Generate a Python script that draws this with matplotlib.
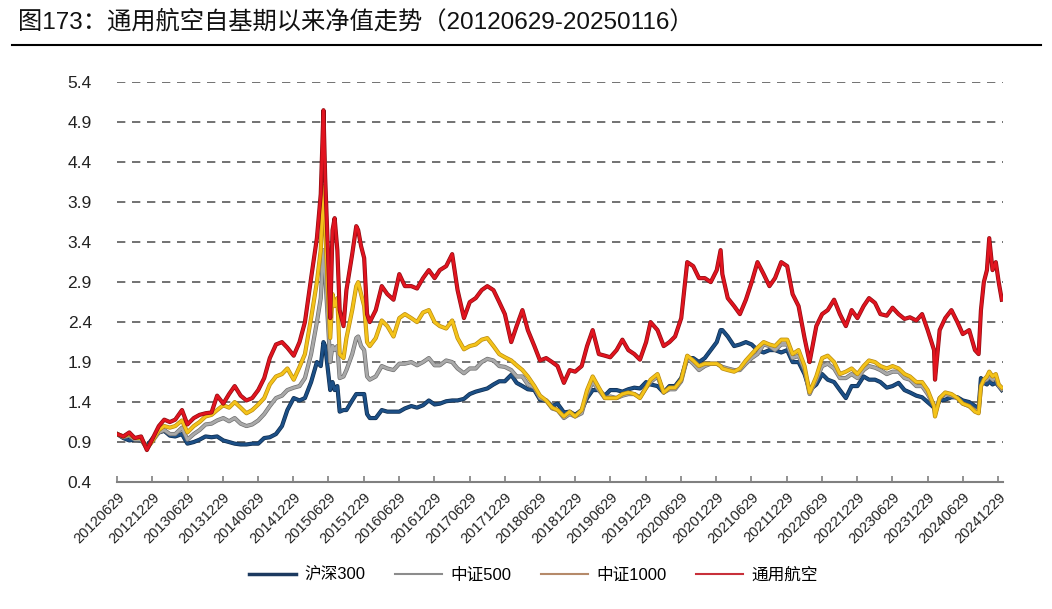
import pandas as pd
import matplotlib.pyplot as plt
import matplotlib.patheffects as pe
from matplotlib.lines import Line2D

plt.rcParams['font.family'] = ['Liberation Sans', 'Noto Sans CJK SC', 'DejaVu Sans']
plt.rcParams['axes.unicode_minus'] = False

# dates of the sampled points (month ends, plus a few extra in sharp moves)
dates = [
    "2012-06-29", "2012-07-31", "2012-08-31", "2012-09-28", "2012-10-31", "2012-11-30", "2012-12-31",
    "2013-01-31", "2013-02-28", "2013-03-29", "2013-04-26", "2013-05-31", "2013-06-28",
    "2013-07-31", "2013-08-30", "2013-09-30", "2013-10-31", "2013-11-29", "2013-12-31",
    "2014-01-30", "2014-02-28", "2014-03-31", "2014-04-30", "2014-05-30", "2014-06-30",
    "2014-07-31", "2014-08-29", "2014-09-30", "2014-10-31", "2014-11-28", "2014-12-31",
    "2015-01-30", "2015-02-27", "2015-03-31", "2015-04-30", "2015-05-20", "2015-06-03",
    "2015-06-12", "2015-06-26", "2015-07-08", "2015-07-20", "2015-07-31", "2015-08-14",
    "2015-08-26", "2015-09-15", "2015-09-30", "2015-10-30", "2015-11-20", "2015-11-30",
    "2015-12-15", "2015-12-31",
    "2016-01-15", "2016-01-29", "2016-02-29", "2016-03-31", "2016-04-29", "2016-05-31", "2016-06-30",
    "2016-07-29", "2016-08-31", "2016-09-30", "2016-10-31", "2016-11-30", "2016-12-30",
    "2017-01-26", "2017-02-28", "2017-03-31", "2017-04-28", "2017-05-31", "2017-06-30",
    "2017-07-31", "2017-08-31", "2017-09-29", "2017-10-31", "2017-11-30", "2017-12-29",
    "2018-01-31", "2018-02-28", "2018-03-30", "2018-04-27", "2018-05-31", "2018-06-29",
    "2018-07-31", "2018-08-31", "2018-09-28", "2018-10-31", "2018-11-30", "2018-12-28",
    "2019-01-31", "2019-02-28", "2019-03-29", "2019-04-30", "2019-05-31", "2019-06-28",
    "2019-07-31", "2019-08-30", "2019-09-30", "2019-10-31", "2019-11-29", "2019-12-31",
    "2020-01-23", "2020-02-28", "2020-03-31", "2020-04-30", "2020-05-29", "2020-06-30",
    "2020-07-31", "2020-08-31", "2020-09-30", "2020-10-30", "2020-11-30", "2020-12-31",
    "2021-01-20", "2021-01-29", "2021-02-26", "2021-03-31", "2021-04-30", "2021-05-31", "2021-06-30",
    "2021-07-30", "2021-08-31", "2021-09-30", "2021-10-29", "2021-11-30", "2021-12-31",
    "2022-01-28", "2022-02-28", "2022-03-31", "2022-04-26", "2022-05-31", "2022-06-30",
    "2022-07-29", "2022-08-31", "2022-09-30", "2022-10-31", "2022-11-30", "2022-12-30",
    "2023-01-31", "2023-02-28", "2023-03-31", "2023-04-28", "2023-05-31", "2023-06-30",
    "2023-07-31", "2023-08-31", "2023-09-28", "2023-10-31", "2023-11-30", "2023-12-29",
    "2024-01-31", "2024-02-05", "2024-02-29", "2024-03-29", "2024-04-30", "2024-05-31",
    "2024-06-28", "2024-07-31", "2024-08-30", "2024-09-18", "2024-09-30", "2024-10-15",
    "2024-10-31", "2024-11-12", "2024-11-29", "2024-12-16", "2024-12-31",
    "2025-01-16",
]

hs300 = [
    1.00, 0.95, 0.92, 0.93, 0.92, 0.85, 0.95,
    1.02, 1.04, 0.98, 0.97, 1.00, 0.88, 0.90, 0.93, 0.97, 0.96, 0.97, 0.92,
    0.90, 0.88, 0.87, 0.87, 0.88, 0.88, 0.95, 0.96, 1.00, 1.10, 1.30, 1.45,
    1.42, 1.45, 1.65, 1.90, 1.85, 2.15, 2.10, 1.80, 1.55, 1.65, 1.55, 1.60, 1.28, 1.30, 1.30, 1.42, 1.50, 1.50, 1.50, 1.50,
    1.25, 1.20, 1.20, 1.30, 1.28, 1.28, 1.28, 1.32, 1.35, 1.33, 1.36, 1.42, 1.37,
    1.38, 1.41, 1.42, 1.42, 1.44, 1.50, 1.53, 1.55, 1.57, 1.62, 1.66, 1.66,
    1.74, 1.64, 1.60, 1.56, 1.55, 1.43, 1.42, 1.35, 1.38, 1.27, 1.28, 1.24,
    1.30, 1.45, 1.55, 1.55, 1.48, 1.55, 1.55, 1.53, 1.56, 1.58, 1.57, 1.65,
    1.62, 1.60, 1.52, 1.60, 1.60, 1.70, 1.95, 1.95, 1.90, 1.95, 2.05, 2.15,
    2.30, 2.30, 2.22, 2.10, 2.12, 2.15, 2.12, 2.05, 2.02, 2.05, 2.05, 2.02, 2.05,
    1.90, 1.90, 1.75, 1.55, 1.62, 1.75, 1.68, 1.65, 1.55, 1.45, 1.60, 1.60,
    1.72, 1.68, 1.68, 1.65, 1.58, 1.60, 1.64, 1.55, 1.52, 1.48, 1.46, 1.40,
    1.33, 1.30, 1.42, 1.43, 1.46, 1.46, 1.42, 1.40, 1.35, 1.32, 1.70, 1.64, 1.62, 1.66, 1.62, 1.64, 1.60,
    1.55,
]

zz500 = [
    1.00, 0.96, 0.98, 0.93, 0.93, 0.82, 0.92,
    1.02, 1.05, 1.00, 1.00, 1.08, 0.93, 1.00, 1.05, 1.12, 1.13, 1.17, 1.20,
    1.16, 1.20, 1.13, 1.10, 1.12, 1.17, 1.25, 1.35, 1.45, 1.48, 1.55, 1.58,
    1.60, 1.70, 2.00, 2.40, 2.70, 3.30, 3.00, 2.40, 1.90, 2.10, 2.05, 2.10, 1.70, 1.72, 1.80, 2.00, 2.20, 2.22, 2.10, 2.05,
    1.72, 1.68, 1.72, 1.85, 1.82, 1.80, 1.88, 1.88, 1.90, 1.86, 1.90, 1.95, 1.86,
    1.86, 1.92, 1.90, 1.82, 1.76, 1.82, 1.82, 1.90, 1.94, 1.92, 1.85, 1.84,
    1.80, 1.72, 1.72, 1.62, 1.58, 1.45, 1.42, 1.32, 1.30, 1.20, 1.25, 1.22,
    1.26, 1.50, 1.65, 1.55, 1.45, 1.47, 1.45, 1.48, 1.50, 1.50, 1.46, 1.58,
    1.65, 1.72, 1.52, 1.56, 1.56, 1.66, 1.95, 1.88, 1.80, 1.85, 1.88, 1.88,
    1.85, 1.84, 1.82, 1.80, 1.80, 1.88, 1.95, 2.00, 2.12, 2.10, 2.05, 2.12, 2.12,
    1.95, 1.98, 1.80, 1.50, 1.68, 1.85, 1.88, 1.82, 1.70, 1.70, 1.75, 1.70,
    1.80, 1.85, 1.83, 1.80, 1.75, 1.78, 1.78, 1.70, 1.68, 1.60, 1.60, 1.50,
    1.35, 1.25, 1.45, 1.50, 1.48, 1.45, 1.38, 1.35, 1.30, 1.28, 1.60, 1.66, 1.68, 1.72, 1.68, 1.70, 1.60,
    1.56,
]

zz1000 = [
    1.00, 0.97, 1.00, 0.95, 0.95, 0.82, 0.92,
    1.05, 1.10, 1.08, 1.10, 1.17, 1.02, 1.10, 1.15, 1.22, 1.24, 1.30, 1.36,
    1.33, 1.40, 1.33, 1.26, 1.30, 1.37, 1.45, 1.62, 1.72, 1.75, 1.82, 1.68,
    1.84, 2.00, 2.45, 2.90, 3.30, 4.10, 3.60, 2.80, 2.20, 2.75, 2.60, 2.70, 2.00, 1.95, 2.20, 2.55, 2.85, 2.90, 2.75, 2.60,
    2.15, 2.10, 2.20, 2.42, 2.35, 2.22, 2.45, 2.50, 2.45, 2.40, 2.52, 2.55, 2.40,
    2.35, 2.32, 2.42, 2.20, 2.06, 2.10, 2.12, 2.18, 2.20, 2.10, 2.00, 1.96,
    1.92, 1.86, 1.80, 1.72, 1.60, 1.48, 1.42, 1.33, 1.30, 1.22, 1.28, 1.22,
    1.30, 1.55, 1.72, 1.58, 1.45, 1.45, 1.45, 1.50, 1.52, 1.50, 1.45, 1.58,
    1.68, 1.75, 1.52, 1.58, 1.58, 1.68, 1.98, 1.92, 1.85, 1.88, 1.88, 1.88,
    1.85, 1.82, 1.80, 1.78, 1.82, 1.92, 2.00, 2.08, 2.15, 2.12, 2.10, 2.18, 2.18,
    2.00, 2.05, 1.85, 1.52, 1.72, 1.95, 1.98, 1.90, 1.75, 1.78, 1.82, 1.75,
    1.85, 1.92, 1.90, 1.85, 1.82, 1.85, 1.82, 1.75, 1.72, 1.65, 1.65, 1.55,
    1.35, 1.22, 1.45, 1.52, 1.50, 1.45, 1.38, 1.35, 1.28, 1.26, 1.60, 1.68, 1.72, 1.78, 1.72, 1.75, 1.62,
    1.58,
]

tyhk = [
    1.00, 0.97, 1.02, 0.95, 0.97, 0.80, 0.95,
    1.10, 1.18, 1.15, 1.18, 1.30, 1.12, 1.20, 1.24, 1.26, 1.27, 1.48, 1.38,
    1.50, 1.60, 1.48, 1.42, 1.45, 1.55, 1.70, 1.95, 2.12, 2.15, 2.08, 1.98,
    2.15, 2.40, 2.95, 3.45, 4.00, 5.05, 4.20, 3.30, 2.45, 3.55, 3.70, 3.30, 2.55, 2.35, 2.80, 3.25, 3.60, 3.55, 3.35, 3.20,
    2.50, 2.40, 2.55, 2.85, 2.75, 2.68, 3.00, 2.85, 2.85, 2.82, 2.95, 3.05, 2.95,
    3.05, 3.10, 3.25, 2.80, 2.45, 2.65, 2.70, 2.80, 2.85, 2.80, 2.65, 2.50,
    2.15, 2.35, 2.55, 2.30, 2.10, 1.92, 1.95, 1.90, 1.85, 1.64, 1.80, 1.78,
    1.85, 2.10, 2.30, 2.00, 1.98, 1.96, 2.05, 2.18, 2.05, 2.00, 1.93, 2.15,
    2.40, 2.30, 2.10, 2.15, 2.22, 2.45, 3.15, 3.10, 2.95, 2.95, 2.90, 3.05,
    3.30, 3.00, 2.70, 2.60, 2.50, 2.68, 2.90, 3.15, 3.00, 2.85, 2.95, 3.15, 3.10,
    2.75, 2.60, 2.20, 1.90, 2.35, 2.50, 2.55, 2.68, 2.50, 2.35, 2.55, 2.45,
    2.60, 2.70, 2.64, 2.50, 2.48, 2.58, 2.50, 2.44, 2.46, 2.42, 2.50, 2.30,
    2.05, 1.68, 2.30, 2.45, 2.55, 2.40, 2.25, 2.30, 2.05, 2.00, 2.55, 2.90, 3.05, 3.45, 3.05, 3.15, 2.90,
    2.68,
]

series_names = ["沪深300", "中证500", "中证1000", "通用航空"]
line_colors = ["#1c4f86", "#a9a9a9", "#f4c31a", "#e1141f"]
edge_colors = ["#0f2d4f", "#6f6f6f", "#b98a10", "#8e0c12"]
legend_colors = ["#1c3a60", "#8c8c8c", "#b58a6a", "#c8303a"]

tick_labels = [
    "20120629", "20121229", "20130629", "20131229", "20140629", "20141229",
    "20150629", "20151229", "20160629", "20161229", "20170629", "20171229",
    "20180629", "20181229", "20190629", "20191229", "20200629", "20201229",
    "20210629", "20211229", "20220629", "20221229", "20230629", "20231229",
    "20240629", "20241229",
]
y_ticks = [0.4, 0.9, 1.4, 1.9, 2.4, 2.9, 3.4, 3.9, 4.4, 4.9, 5.4]

x = pd.to_datetime(dates)

fig = plt.figure(figsize=(10.52, 6.09), dpi=100)
ax = fig.add_axes([0.111, 0.2085, 0.842, 0.6565])

for vals, c, ec, name in zip([hs300, zz500, zz1000, tyhk], line_colors, edge_colors, series_names):
    ax.plot(x, vals, color=c, linewidth=2.0, label=name, solid_joinstyle='round',
            path_effects=[pe.Stroke(linewidth=3.0, foreground=ec), pe.Normal()])

ax.set_ylim(0.4, 5.4)
ax.set_yticks(y_ticks)
ax.set_yticklabels([f"{v:.1f}" for v in y_ticks])
ax.set_xlim(pd.Timestamp("2012-06-27"), pd.Timestamp("2025-01-20"))
ax.set_xticks(pd.to_datetime(tick_labels, format="%Y%m%d"))
ax.set_xticklabels(tick_labels, rotation=45, ha='right', rotation_mode='anchor')

for v in y_ticks[1:]:
    ax.axhline(v, color='#5a5a5a', linewidth=1.2, linestyle=(0, (5, 4)), zorder=0)

for s in ['top', 'right', 'left']:
    ax.spines[s].set_visible(False)
ax.spines['bottom'].set_color('#808080')
ax.spines['bottom'].set_linewidth(1.5)
ax.tick_params(axis='y', length=0, pad=18, labelsize=12.5, labelcolor='#222222')
ax.tick_params(axis='x', direction='in', length=4, color='#808080', width=1.2,
               labelsize=10.5, pad=6, labelcolor='#222222')

fig.text(0.017, 1 - 22 / 609, "图173：通用航空自基期以来净值走势（20120629-20250116）",
         fontsize=17.5, va='center', ha='left', color='#111111')
fig.add_artist(Line2D([0.011, 0.99], [1 - 45 / 609, 1 - 45 / 609], color='black', linewidth=1.5))

handles = [Line2D([], [], color=c, linewidth=lw) for c, lw in zip(legend_colors, [2.5, 1.5, 1.5, 1.5])]
fig.legend(handles, series_names, loc='center', bbox_to_anchor=(0.507, 1 - 575 / 609), ncol=4,
           frameon=False, fontsize=12, handlelength=2.8, handletextpad=0.5, columnspacing=1.8)

fig.savefig("out.png", dpi=100)
